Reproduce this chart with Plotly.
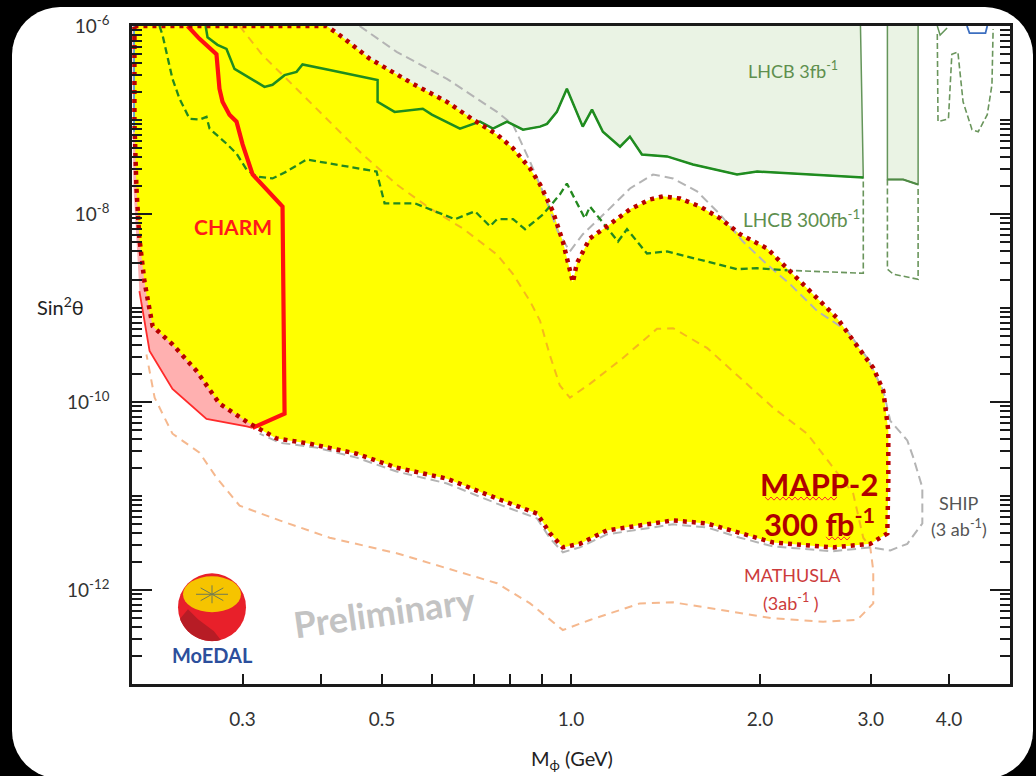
import math
import plotly.graph_objects as go

# ---------------- data (mass in GeV, sin^2 theta) ----------------
LHCB3_MASS = [0.262, 0.2638, 0.2736, 0.2828, 0.2912, 0.3251, 0.3348, 0.3499, 0.3656, 0.3737,
              0.4128, 0.4921, 0.4921, 0.5238, 0.5808, 0.6004, 0.6656, 0.7163, 0.7513, 0.7909,
              0.8387, 0.8928, 0.9159, 0.9494, 0.985, 1.044, 1.08, 1.124, 1.197, 1.241,
              1.297, 1.422, 1.564, 1.665, 1.838, 1.979, 2.377, 2.92]
LHCB3_SIN2 = [1e-6, 7.6e-7, 6.3e-7, 5.7e-7, 3.5e-7, 2.25e-7, 2.37e-7, 3.0e-7, 3.25e-7, 3.9e-7,
              3.4e-7, 2.67e-7, 1.56e-7, 1.22e-7, 1.32e-7, 1.14e-7, 8.1e-8, 9.6e-8, 8.1e-8, 9.6e-8,
              7.9e-8, 8.5e-8, 9.1e-8, 1.22e-7, 2.15e-7, 8.5e-8, 1.29e-7, 7.5e-8, 5.2e-8, 6.65e-8,
              4.3e-8, 4.1e-8, 3.36e-8, 3.05e-8, 2.63e-8, 2.83e-8, 2.63e-8, 2.45e-8]
LHCB3_TOP_RIGHT = 2.89

LHCB3B_MASS = [3.19, 3.19, 3.38, 3.57, 3.57]
LHCB3B_SIN2 = [1e-6, 2.33e-8, 2.33e-8, 2.06e-8, 1e-6]

LHCB300_MASS = [0.2212, 0.2237, 0.232, 0.2381, 0.247, 0.2562, 0.2628, 0.2658, 0.2828, 0.2934,
                0.3044, 0.3158, 0.3348, 0.3525, 0.3793, 0.4128, 0.4902, 0.5049, 0.564, 0.6534,
                0.7032, 0.743, 0.7624, 0.8086, 0.8449, 0.9025, 0.9599, 0.985, 1.052, 1.072,
                1.188, 1.228, 1.321, 1.422, 1.564, 1.838, 1.979, 2.208]
LHCB300_SIN2 = [1e-6, 8.0e-7, 2.74e-7, 1.68e-7, 1.03e-7, 1.01e-7, 1.08e-7, 8.1e-8, 5.6e-8, 4.4e-8,
                2.97e-8, 2.5e-8, 2.39e-8, 2.83e-8, 3.8e-8, 3.44e-8, 2.83e-8, 1.3e-8, 1.3e-8, 8.8e-9,
                1.07e-8, 7.4e-9, 8.8e-9, 8.8e-9, 6.9e-9, 9.9e-9, 1.61e-8, 2.11e-8, 9.0e-9, 1.2e-8,
                5.1e-9, 6.9e-9, 3.8e-9, 4.0e-9, 3.4e-9, 2.59e-9, 2.65e-9, 2.52e-9]
LHCB300_TAIL_MASS = [2.208, 2.92, 2.92]
LHCB300_TAIL_SIN2 = [2.52e-9, 2.34e-9, 2.45e-8]
LHCB300B_MASS = [3.19, 3.19, 3.26, 3.57, 3.57]
LHCB300B_SIN2 = [2.33e-8, 2.59e-9, 2.29e-9, 2.02e-9, 1.96e-8]
LHCB300C_MASS = [3.83, 3.84, 3.99, 4.04, 4.13, 4.21, 4.35, 4.45, 4.60, 4.68, 4.70]
LHCB300C_SIN2 = [8.2e-7, 9.6e-8, 1.03e-7, 5.0e-7, 5.3e-7, 1.56e-7, 7.9e-8, 7.5e-8, 1.14e-7, 2.37e-7, 9.3e-7]
LHCB3C_MASS = [3.83, 3.87, 3.97]
LHCB3C_SIN2 = [1e-6, 8.0e-7, 9.5e-7]
BLUE_MASS = [4.27, 4.31, 4.57, 4.60]
BLUE_SIN2 = [1e-6, 8.4e-7, 8.4e-7, 1e-6]
BLUE_LEFT_MASS = [0.2015, 0.2015]
BLUE_LEFT_SIN2 = [1e-6, 7.5e-8]

MAPP_MASS = [0.2018, 0.4083, 0.4328, 0.4778, 0.5599, 0.6345, 0.6981, 0.7624, 0.8086, 0.8606,
             0.8928, 0.9354, 0.9706, 0.9883, 1.0069, 1.0216, 1.0716, 1.1535, 1.2414, 1.3358,
             1.4012, 1.4914, 1.605, 1.7271, 1.858, 2.0524, 2.2083, 2.4293, 2.6535, 2.8141,
             3.0286, 3.1422, 3.2006, 3.2006, 3.1889, 2.9957, 2.6146, 2.0979, 1.858, 1.6467,
             1.4535, 1.2876, 1.1408, 1.033, 0.9706, 0.9261, 0.883, 0.7624, 0.6345, 0.5277,
             0.4556, 0.3835, 0.3398, 0.3078, 0.2756, 0.2534, 0.232, 0.2157, 0.2117, 0.2093,
             0.2055, 0.2033, 0.2018, 0.2018]
MAPP_SIN2 = [1e-6, 1e-6, 7.6e-7, 4.5e-7, 2.43e-7, 1.56e-7, 1.01e-7, 7.0e-8, 5.0e-8, 3.05e-8,
             2.06e-8, 1.07e-8, 5.1e-9, 3.1e-9, 1.88e-9, 2.99e-9, 5.5e-9, 7.8e-9, 1.12e-8, 1.43e-8,
             1.54e-8, 1.46e-8, 1.2e-8, 9.0e-9, 6.1e-9, 4.3e-9, 2.65e-9, 1.4e-9, 7.8e-10, 4.5e-10,
             2.31e-10, 1.32e-10, 4.95e-11, 1.46e-11, 4.0e-12, 3.1e-12, 2.84e-12, 3.2e-12, 4.0e-12, 5.1e-12,
             5.5e-12, 4.9e-12, 4.3e-12, 3.1e-12, 2.84e-12, 4.0e-12, 6.5e-12, 9.4e-12, 1.53e-11, 2.0e-11,
             2.82e-11, 3.6e-11, 4.1e-11, 5.9e-11, 9.6e-11, 2.14e-10, 4.1e-10, 6.4e-10, 1.18e-9, 1.93e-9,
             5.5e-9, 1.87e-8, 9.6e-8, 1e-6]

SHIP_MASS = [0.4606, 0.5277, 0.6345, 0.7624, 0.8086, 0.8606, 0.9086, 0.953, 0.996, 1.0444,
             1.1408, 1.2414, 1.3506, 1.4535, 1.5874, 1.7271, 1.8786, 2.0524, 2.2328, 2.4654,
             2.7526, 2.9628, 3.1422, 3.2243, 3.4315, 3.508, 3.6256, 3.6256, 3.4315, 3.2243,
             2.9957, 2.6146, 2.0979, 1.858, 1.6467, 1.4535, 1.2876, 1.1408, 1.033, 0.9706,
             0.9261, 0.883, 0.7624, 0.6345, 0.5277, 0.4556, 0.3935, 0.3435, 0.3193]
SHIP_SIN2 = [1e-6, 5.3e-7, 2.74e-7, 1.22e-7, 8.9e-8, 3.6e-8, 1.54e-8, 6.5e-9, 4.0e-9, 6.1e-9,
             1.07e-8, 1.87e-8, 2.63e-8, 2.39e-8, 1.74e-8, 9.9e-9, 5.1e-9, 2.9e-9, 1.79e-9, 9.3e-10,
             5.7e-10, 2.94e-10, 1.32e-10, 6.3e-11, 3.9e-11, 2.56e-11, 1.23e-11, 5.1e-12, 3.1e-12, 2.64e-12,
             2.84e-12, 2.58e-12, 2.91e-12, 3.6e-12, 4.63e-12, 5.0e-12, 4.41e-12, 3.91e-12, 2.84e-12, 2.52e-12,
             3.54e-12, 5.77e-12, 8.3e-12, 1.36e-11, 1.82e-11, 2.56e-11, 3.27e-11, 3.69e-11, 4.6e-11]

MATHUSLA_MASS = [0.2967, 0.3227, 0.3656, 0.4128, 0.4657, 0.5277, 0.596, 0.6729, 0.7624, 0.8086,
                 0.8606, 0.8928, 0.9261, 0.9599, 0.996, 1.0716, 1.2098, 1.3706, 1.4535, 1.6467,
                 1.858, 2.0979, 2.3767, 2.6146, 2.8141, 2.9195, 2.9957, 3.0286, 3.0286, 2.8559,
                 2.5205, 2.0979, 1.7463, 1.4535, 1.2876, 1.0716, 0.9706, 0.8606, 0.7624, 0.6729,
                 0.5277, 0.4128, 0.3435, 0.2967, 0.2726, 0.2562, 0.232, 0.2173, 0.2109]
MATHUSLA_SIN2 = [1e-6, 4.9e-7, 2.15e-7, 9.6e-8, 4.3e-8, 2.06e-8, 1.15e-8, 7.0e-9, 3.7e-9, 2.29e-9,
                 1.18e-9, 7.3e-10, 3.1e-10, 1.5e-10, 1.11e-10, 1.56e-10, 2.94e-10, 6.0e-10, 6.1e-10, 3.76e-10,
                 1.81e-10, 8.7e-11, 4.6e-11, 2.0e-11, 1.06e-11, 3.6e-12, 2.84e-12, 1.62e-12, 7.2e-13, 4.8e-13,
                 4.6e-13, 5.0e-13, 6.1e-13, 7.4e-13, 7.2e-13, 4.8e-13, 3.75e-13, 7.2e-13, 1.18e-12, 1.51e-12,
                 2.46e-12, 3.6e-12, 5.5e-12, 7.9e-12, 1.57e-11, 2.89e-11, 4.6e-11, 1.11e-10, 3.2e-10]

CHARM_MASS = [0.2452, 0.2562, 0.2726, 0.2756, 0.2787, 0.2859, 0.2934, 0.300, 0.3112, 0.3473,
              0.3499, 0.3112]
CHARM_SIN2 = [1e-6, 7.3e-7, 5.0e-7, 2.15e-7, 1.56e-7, 1.14e-7, 9.6e-8, 5.5e-8, 2.63e-8, 1.2e-8,
              7.5e-11, 5.3e-11]
CHARM_LOW_MASS = [0.3112, 0.3044, 0.2628, 0.232, 0.2133, 0.2055, 0.2010, 0.2002]
CHARM_LOW_SIN2 = [5.3e-11, 5.5e-11, 6.6e-11, 1.38e-10, 3.5e-10, 1.51e-9, 2e-8, 1e-6]

X_TICKS = [0.3, 0.5, 1.0, 2.0, 3.0, 4.0]
X_TICK_TEXT = ["0.3", "0.5", "1.0", "2.0", "3.0", "4.0"]
X_MINOR = [0.4, 0.6, 0.7, 0.8, 0.9]
Y_TICKS = [1e-12, 1e-10, 1e-8, 1e-6]
Y_TICK_TEXT = ["10<sup>-12</sup>", "10<sup>-10</sup>", "10<sup>-8</sup>", "10<sup>-6</sup>"]

FONT = "Lato"

fig = go.Figure()

# LHCb 3 fb-1 excluded regions (light green)
fig.add_trace(go.Scatter(x=LHCB3_MASS + [LHCB3_TOP_RIGHT], y=LHCB3_SIN2 + [1e-6],
                         fill="toself", fillcolor="#eaf3e4", mode="lines",
                         line=dict(color="#64955a", width=1.5), hoverinfo="skip"))
fig.add_trace(go.Scatter(x=LHCB3B_MASS, y=LHCB3B_SIN2, fill="toself", fillcolor="#eaf3e4",
                         mode="lines", line=dict(color="#64955a", width=1.5), hoverinfo="skip"))

# CHARM region (pink)
fig.add_trace(go.Scatter(x=CHARM_MASS + CHARM_LOW_MASS, y=CHARM_SIN2 + CHARM_LOW_SIN2,
                         fill="toself", fillcolor="#ffb0b0", mode="lines",
                         line=dict(color="rgba(0,0,0,0)", width=0), hoverinfo="skip"))
fig.add_trace(go.Scatter(x=CHARM_LOW_MASS[:-2], y=CHARM_LOW_SIN2[:-2], mode="lines",
                         line=dict(color="#ff2a2a", width=1.8), hoverinfo="skip"))

# MAPP-2 region (yellow)
fig.add_trace(go.Scatter(x=MAPP_MASS, y=MAPP_SIN2, fill="toself", fillcolor="#ffff00",
                         mode="lines", line=dict(color="rgba(0,0,0,0)", width=0), hoverinfo="skip"))

# MATHUSLA (dashed orange, semi-transparent)
fig.add_trace(go.Scatter(x=MATHUSLA_MASS, y=MATHUSLA_SIN2, mode="lines",
                         line=dict(color="rgba(237,125,49,0.55)", width=2, dash="8px,6px"),
                         hoverinfo="skip"))
# SHIP (dashed grey)
fig.add_trace(go.Scatter(x=SHIP_MASS, y=SHIP_SIN2, mode="lines",
                         line=dict(color="#b4b4b4", width=2, dash="9px,5px"), hoverinfo="skip"))

# LHCb 300 fb-1 (dashed green)
fig.add_trace(go.Scatter(x=LHCB300_MASS, y=LHCB300_SIN2, mode="lines",
                         line=dict(color="#23891f", width=2.3, dash="7px,4px"), hoverinfo="skip"))
for mx, sy in [(LHCB300_TAIL_MASS, LHCB300_TAIL_SIN2), (LHCB300B_MASS, LHCB300B_SIN2),
               (LHCB300C_MASS, LHCB300C_SIN2)]:
    fig.add_trace(go.Scatter(x=mx, y=sy, mode="lines",
                             line=dict(color="#6a955c", width=1.6, dash="6px,3px"), hoverinfo="skip"))

# LHCb 3 fb-1 boundary (solid green)
fig.add_trace(go.Scatter(x=LHCB3_MASS, y=LHCB3_SIN2, mode="lines",
                         line=dict(color="#1f8c1f", width=2.5), hoverinfo="skip"))
fig.add_trace(go.Scatter(x=LHCB3B_MASS[1:4], y=LHCB3B_SIN2[1:4], mode="lines",
                         line=dict(color="#4f8a45", width=2), hoverinfo="skip"))
fig.add_trace(go.Scatter(x=LHCB3C_MASS, y=LHCB3C_SIN2, mode="lines",
                         line=dict(color="#64955a", width=1.5), hoverinfo="skip"))
fig.add_trace(go.Scatter(x=BLUE_MASS, y=BLUE_SIN2, mode="lines",
                         line=dict(color="#3d6fc0", width=1.8), hoverinfo="skip"))
fig.add_trace(go.Scatter(x=BLUE_LEFT_MASS, y=BLUE_LEFT_SIN2, mode="lines",
                         line=dict(color="#3a9ad9", width=1.5), hoverinfo="skip"))

# CHARM thick red line
fig.add_trace(go.Scatter(x=CHARM_MASS, y=CHARM_SIN2, mode="lines",
                         line=dict(color="#ff1010", width=4.2), hoverinfo="skip"))

# MAPP-2 dotted boundary
fig.add_trace(go.Scatter(x=MAPP_MASS, y=MAPP_SIN2, mode="lines",
                         line=dict(color="#b80000", width=4.5, dash="4px,5px"), hoverinfo="skip"))

# ---------------- layout ----------------
L, R, T, B = 132, 26, 24, 92
W, H = 1036, 776
PW, PH = W - L - R, H - T - B


def px(xpix):
    return (xpix - L) / PW


def py(ypix):
    return (H - B - ypix) / PH


def rounded_rect(x0, y0, x1, y1, r):
    pts = []
    corners = [(x1 - r, y0 + r, -90), (x1 - r, y1 - r, 0), (x0 + r, y1 - r, 90), (x0 + r, y0 + r, 180)]
    for cx, cy, a0 in corners:
        for k in range(0, 11):
            a = math.radians(a0 + 9 * k)
            pts.append((cx + r * math.cos(a), cy + r * math.sin(a)))
    return "M " + " L ".join(f"{px(a):.5f},{py(b):.5f}" for a, b in pts) + " Z"


def circle_path(cx, cy, r, a_from, a_to, n=40):
    pts = []
    for k in range(n + 1):
        a = math.radians(a_from + (a_to - a_from) * k / n)
        pts.append((cx + r * math.cos(a), cy + r * math.sin(a)))
    return pts


shapes = []
# white rounded panel on black background
shapes.append(dict(type="path", xref="paper", yref="paper", path=rounded_rect(12, 5, 1033, 779, 48),
                   fillcolor="white", line=dict(width=0), layer="below"))
# longer tick at 1.0
shapes.append(dict(type="line", xref="x", yref="paper", x0=0, x1=0, y0=0, y1=18 / PH,
                   line=dict(color="#1a1a1a", width=2)))

# MoEDAL logo
cx, cy, rr = 212, 607, 34
shapes.append(dict(type="circle", xref="paper", yref="paper", x0=px(cx - rr), x1=px(cx + rr),
                   y0=py(cy + rr), y1=py(cy - rr), fillcolor="#e8202a", line=dict(width=0)))
arc = circle_path(cx, cy, rr, 160, 75, 30)
pts = arc + [(cx + 2, cy + 24), (cx - 14, cy + 12), (cx - 24, cy + 2)]
shapes.append(dict(type="path", xref="paper", yref="paper",
                   path="M " + " L ".join(f"{px(a):.5f},{py(b):.5f}" for a, b in pts) + " Z",
                   fillcolor="#b71c25", line=dict(width=0)))
shapes.append(dict(type="circle", xref="paper", yref="paper", x0=px(cx - 29), x1=px(cx + 29),
                   y0=py(cy + 5), y1=py(cy - 31), fillcolor="#f6c400", line=dict(width=0)))
for ang in range(0, 360, 45):
    a = math.radians(ang)
    shapes.append(dict(type="line", xref="paper", yref="paper",
                       x0=px(cx), y0=py(cy - 13), x1=px(cx + 16 * math.cos(a)),
                       y1=py(cy - 13 + 9 * math.sin(a)), line=dict(color="#6f7a55", width=1)))


def squiggle(x0, x1, y, amp=1.6, step=3.0):
    pts = []
    k = 0
    xx = x0
    while xx <= x1:
        pts.append((xx, y + (amp if k % 2 else -amp)))
        xx += step
        k += 1
    return "M " + " L ".join(f"{px(a):.5f},{py(b):.5f}" for a, b in pts)


shapes.append(dict(type="path", xref="paper", yref="paper", path=squiggle(765, 838, 498),
                   line=dict(color="#ff3030", width=1)))
shapes.append(dict(type="path", xref="paper", yref="paper", path=squiggle(826, 850, 538),
                   line=dict(color="#ff3030", width=1)))

ann = []


def text(xpix, ypix, s, size, color, bold=False, angle=0, xanchor="center"):
    ann.append(dict(x=px(xpix), y=py(ypix), xref="paper", yref="paper", text=f"<b>{s}</b>" if bold else s,
                    showarrow=False, font=dict(family=FONT, size=size, color=color),
                    xanchor=xanchor, yanchor="middle", textangle=angle))


text(793, 68, "LHCB 3fb<sup>-1</sup>", 18, "#5e8f4e")
text(801, 217, "LHCB 300fb<sup>-1</sup>", 19, "#5e8f4e")
text(233, 225, "CHARM", 21, "#ff1a1a", bold=True)
text(819, 483, "MAPP-2", 31, "#b00000", bold=True)
text(819, 522, "300 fb<sup>-1</sup>", 31, "#b00000", bold=True)
text(959, 502, "SHIP", 18, "#555555")
text(959, 528, "(3 ab<sup>-1</sup>)", 18, "#555555")
text(792, 575, "MATHUSLA", 18, "#cc3b3b")
text(791, 602, "(3ab<sup>-1</sup> )", 18, "#cc3b3b")
text(384, 612, "Preliminary", 36, "#c3c3c3", bold=True, angle=-8)
text(212, 655, "MoEDAL", 20, "#2c4f9c", bold=True)
text(86, 305, "Sin<sup>2</sup>θ", 20, "#222222", xanchor="right")
text(572, 760, "M<sub>ϕ</sub> (GeV)", 20, "#222222")

Y_MINOR = [k * 10.0 ** e for e in range(-13, -6) for k in range(1, 10)
           if not (k == 1 and e in (-12, -10, -8))]

fig.update_layout(
    width=W, height=H, margin=dict(l=L, r=R, t=T, b=B),
    paper_bgcolor="black", plot_bgcolor="white", showlegend=False,
    shapes=shapes, annotations=ann,
    font=dict(family=FONT, color="#222222"),
    xaxis=dict(type="log", range=[math.log10(0.2), math.log10(5)], tickmode="array",
               tickvals=X_TICKS, ticktext=X_TICK_TEXT, ticks="inside", ticklen=10, tickwidth=1.5,
               tickcolor="#1a1a1a", showline=True, linecolor="#1a1a1a", linewidth=2.5, mirror=True,
               showgrid=False, zeroline=False, tickfont=dict(size=19, color="#333333"),
               ticklabelstandoff=16,
               minor=dict(tickmode="array", tickvals=X_MINOR, ticks="inside", ticklen=10,
                          tickwidth=1.5, tickcolor="#1a1a1a", showgrid=False)),
    yaxis=dict(type="log", range=[-13, -6], tickmode="array", tickvals=Y_TICKS, ticktext=Y_TICK_TEXT,
               ticks="inside", ticklen=20, tickwidth=1.5, tickcolor="#1a1a1a", showline=True,
               linecolor="#1a1a1a", linewidth=2.5, mirror="ticks", showgrid=False, zeroline=False,
               tickfont=dict(size=19, color="#333333"), ticklabelstandoff=16,
               minor=dict(tickmode="array", tickvals=Y_MINOR, ticks="inside", ticklen=10,
                          tickwidth=1.5, tickcolor="#1a1a1a", showgrid=False)),
)

fig.write_html("out.html", config={"displayModeBar": False},
               post_script="document.body.style.margin='0';document.body.style.background='black';")
